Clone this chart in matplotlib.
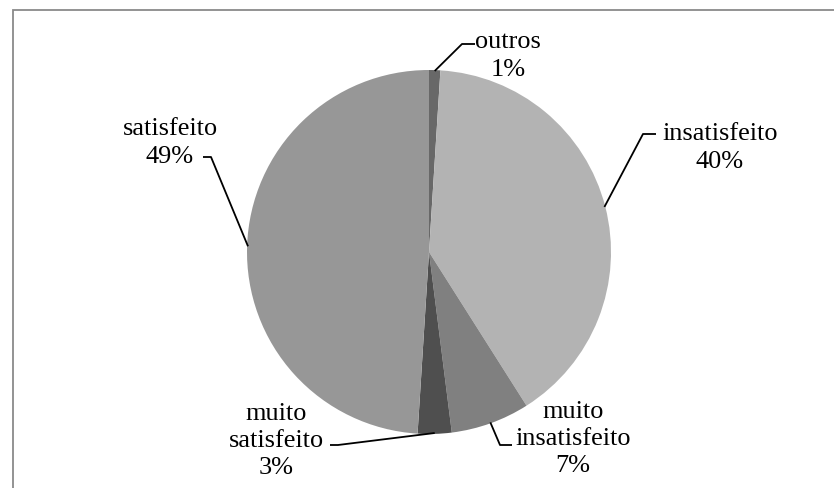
import numpy as np
import matplotlib
matplotlib.use("Agg")
import matplotlib.pyplot as plt
from matplotlib.patches import Rectangle

# Survey answers (percent)
categories = ["outros", "insatisfeito", "muito\ninsatisfeito", "muito\nsatisfeito", "satisfeito"]
values = [1, 40, 7, 3, 49]
labels = ["outros\n1%", "insatisfeito\n40%", "muito\ninsatisfeito\n7%", "muito\nsatisfeito\n3%", "satisfeito\n49%"]
colors = ["#686868", "#b3b3b3", "#808080", "#4f4f4f", "#979797"]

W, H = 834, 489
fig = plt.figure(figsize=(W / 100, H / 100), dpi=100)
ax = fig.add_axes([0, 0, 1, 1])

def py(y):
    # pixel row (top-down) -> axis y
    return H - y

cx, cy, r = 429, py(253), 182
wedges, _ = ax.pie(values, colors=colors, startangle=90, counterclock=False,
                   center=(cx, cy), radius=r, wedgeprops=dict(linewidth=0))

ax.set_xlim(0, W)
ax.set_ylim(0, H)
ax.set_aspect("equal")
ax.axis("off")

# chart frame (open to the right and bottom edges)
ax.add_patch(Rectangle((12.5, -20), W + 40, py(10.5) + 20, fill=False,
                       edgecolor="#8a8a8a", linewidth=1.3))

# label layout: text centre, leader elbow, leader end (pixel rows top-down)
text_pos = [(508, 56), (720, 148), (573, 439), (276, 441), (170, 143)]
elbows = [(462, 45), (643, 135), (500, 446), (338, 446), (211, 158)]
ends = [(475, 45), (656, 135), (512, 446), (330, 446), (203, 158)]

for w, lab, tp, el, en in zip(wedges, labels, text_pos, elbows, ends):
    ang = np.deg2rad((w.theta1 + w.theta2) / 2)
    sx = cx + 0.995 * r * np.cos(ang)
    sy = cy + 0.995 * r * np.sin(ang)
    ax.plot([sx, el[0], en[0]], [sy, py(el[1]), py(en[1])], color="black",
            linewidth=1.3, solid_capstyle="butt")
    ax.text(tp[0], py(tp[1]), lab, ha="center", va="center", multialignment="center",
            fontsize=18.9, family="Liberation Serif", color="black", linespacing=1.32)

fig.savefig("out.png", dpi=100)
